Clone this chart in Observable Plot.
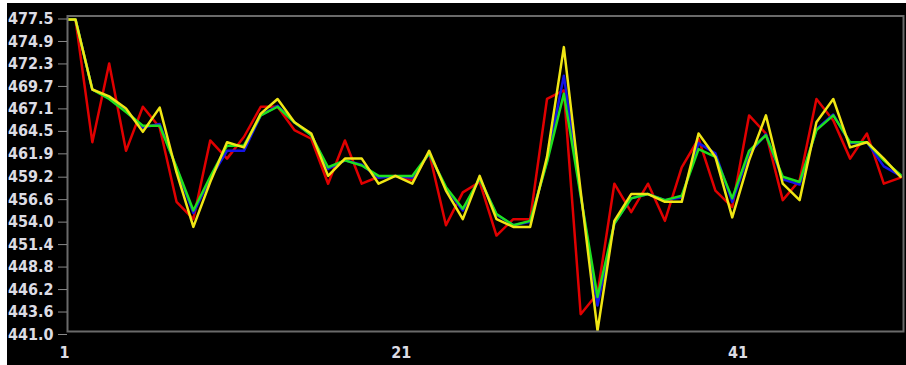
<!DOCTYPE html>
<html>
<head>
<meta charset="utf-8">
<script src="https://cdn.jsdelivr.net/npm/d3@7"></script>
<script src="https://cdn.jsdelivr.net/npm/@observablehq/plot@0.6"></script>
<style>
  html, body { margin: 0; padding: 0; background: #fff; }
  #chart { position: absolute; left: 7px; top: 3px; width: 899px; height: 362px; background: #000; overflow: hidden; }
  #chart svg { display: block; }
</style>
</head>
<body>
<div id="chart"></div>
<script>
// x positions: 0 is the lead-in point at the left edge, 1..50 are the data points
const xIndex = d3.range(0, 51);
const xTickLabels = [1, 21, 41];
const yTickLabels = [441.0, 443.6, 446.2, 448.8, 451.4, 454.0, 456.6, 459.2, 461.9, 464.5, 467.1, 469.7, 472.3, 474.9, 477.5];

const red = [477.1, 477.1, 462.9, 472.0, 461.9, 467.0, 464.6, 456.0, 454.0, 463.1, 461.0,
  463.5, 467.0, 467.0, 464.3, 463.3, 458.1, 463.1, 458.1, 458.9, 459.0,
  458.5, 461.7, 453.3, 457.1, 458.3, 452.1, 454.0, 454.0, 467.9, 468.9,
  443.0, 445.4, 458.1, 454.8, 458.1, 453.8, 460.0, 463.3, 457.3, 455.4,
  466.0, 463.9, 456.2, 458.5, 467.9, 465.4, 461.0, 463.9, 458.1, 458.8];

const blue = [477.1, 477.1, 469.0, 468.0, 466.5, 464.6, 465.0, 459.9, 454.7, 458.7, 461.9,
  461.9, 466.0, 467.1, 465.2, 463.7, 459.8, 460.8, 460.3, 458.8, 459.0,
  458.8, 461.6, 457.6, 455.0, 458.7, 454.5, 453.3, 453.7, 460.7, 470.6,
  456.8, 444.0, 453.5, 456.4, 456.9, 456.2, 456.5, 462.8, 461.6, 456.0,
  461.6, 463.8, 458.6, 458.0, 464.4, 466.1, 462.8, 462.9, 460.1, 459.0];

const green = [477.1, 477.1, 469.0, 467.9, 466.4, 464.8, 464.8, 460.0, 455.0, 458.9, 462.5,
  462.5, 466.0, 467.0, 465.2, 463.7, 460.0, 460.8, 460.2, 459.0, 459.0,
  459.0, 461.6, 457.7, 455.2, 458.7, 454.6, 453.3, 453.8, 460.6, 468.5,
  456.7, 445.0, 453.5, 456.4, 456.9, 456.2, 456.7, 462.1, 461.2, 456.4,
  461.9, 463.7, 458.9, 458.3, 464.3, 466.0, 462.9, 462.9, 460.8, 459.1];

const yellow = [477.1, 477.1, 469.0, 468.2, 466.8, 464.1, 466.9, 459.4, 453.1, 458.3, 462.9,
  462.3, 466.2, 467.9, 465.2, 463.9, 459.0, 461.0, 461.0, 458.1, 459.0,
  458.1, 461.9, 457.3, 454.0, 459.0, 454.0, 453.1, 453.1, 461.2, 473.9,
  457.2, 441.1, 453.8, 456.9, 456.9, 456.0, 456.0, 463.9, 461.2, 454.2,
  460.8, 466.0, 458.1, 456.2, 465.2, 467.9, 462.3, 462.9, 461.0, 458.9];

const seriesList = [
  {values: red, color: "#e00000"},
  {values: blue, color: "#1414e6"},
  {values: green, color: "#1ee01e"},
  {values: yellow, color: "#f0e614"}
];

const lineMarks = seriesList.map(s =>
  Plot.lineY(s.values, {x: (d, i) => xIndex[i], y: d => d, stroke: s.color, strokeWidth: 2.5, clip: true})
);

const chart = Plot.plot({
  width: 899,
  height: 362,
  marginLeft: 60,
  marginRight: 3,
  marginTop: 12.5,
  marginBottom: 34,
  style: {background: "#000", color: "#dcdce4", fontFamily: "'DejaVu Sans Condensed', 'DejaVu Sans', sans-serif", fontSize: "16px", fontWeight: "bold"},
  x: {domain: [0.525, 50.17]},
  y: {domain: [441, 477.5]},
  marks: [
    ...lineMarks,
    Plot.frame({stroke: "#6a6a6a", strokeWidth: 2}),
    Plot.axisY(yTickLabels, {tickSize: 9, tickPadding: 5, tickFormat: d => d.toFixed(1), stroke: "#8a8a8a", fill: "#dcdce4", dy: 3, label: null}),
    Plot.axisX(xTickLabels, {tickSize: 0, tickPadding: 15, dx: -11, fill: "#dcdce4", label: null})
  ]
});
document.getElementById("chart").appendChild(chart);
</script>
</body>
</html>
